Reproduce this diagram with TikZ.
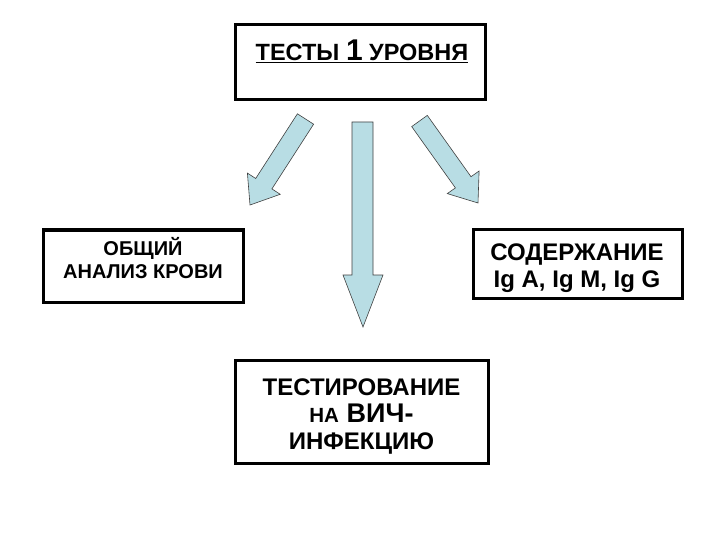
\documentclass[tikz,border=0pt]{standalone}
\usepackage{fontspec}
\setmainfont{Liberation Sans}
\definecolor{arrowblue}{RGB}{184,221,228}
\begin{document}
\begin{tikzpicture}[x=1pt,y=-1pt,
  box/.style={draw=black, line width=3pt, fill=white, inner sep=0pt},
  lbl/.style={inner sep=0pt, align=center, font=\bfseries},
  arr/.style={draw=black!75, line width=0.6pt, fill=arrowblue, line join=miter}]
\useasboundingbox[fill=white] (0,0) rectangle (720,540);
% boxes
\node[box, minimum width=250pt, minimum height=75pt] (top) at (360,62.5) {};
\node[box, minimum width=200pt, minimum height=72pt] (left) at (143,266) {};
\node[box, minimum width=209pt, minimum height=68pt] (right) at (577.5,264) {};
\node[box, minimum width=253pt, minimum height=103pt] (bottom) at (361.5,411.5) {};
% texts
\node[lbl, font=\bfseries\fontsize{23.5}{27}\selectfont] (toptext) at (362,51)
  {\underline{ТЕСТЫ {\fontsize{30}{30}\selectfont 1} УРОВНЯ}};
\node[lbl, font=\bfseries\fontsize{20}{23}\selectfont] (lefttext) at (143,258.5)
  {ОБЩИЙ\\АНАЛИЗ КРОВИ};
\node[lbl, font=\bfseries\fontsize{24}{27}\selectfont] (righttext) at (577,268.5)
  {СОДЕРЖАНИЕ\\Ig A, Ig M, Ig G};
\node[lbl, font=\bfseries\fontsize{24}{27}\selectfont] (bottomtext) at (361.5,417)
  {ТЕСТИРОВАНИЕ\\{\fontsize{20.5}{27}\selectfont НА}\hspace{1pt} {\fontsize{27}{27}\selectfont ВИЧ-}\\ИНФЕКЦИЮ};
% block arrows
\draw[arr] (297.4,113.8) -- (313.6,124.2) -- (271.9,188.9) -- (280.2,194.3)
  -- (250,205) -- (247.4,173.1) -- (255.7,178.5) -- cycle;
\draw[arr] (352,122) -- (373,122) -- (373,275) -- (383,275) -- (363,327)
  -- (343,275) -- (352,275) -- cycle;
\draw[arr] (411.7,126.6) -- (427.3,115.4) -- (471.0,176.7) -- (479.1,171.0)
  -- (478,203) -- (447.3,193.6) -- (455.4,187.9) -- cycle;
\end{tikzpicture}
\end{document}
